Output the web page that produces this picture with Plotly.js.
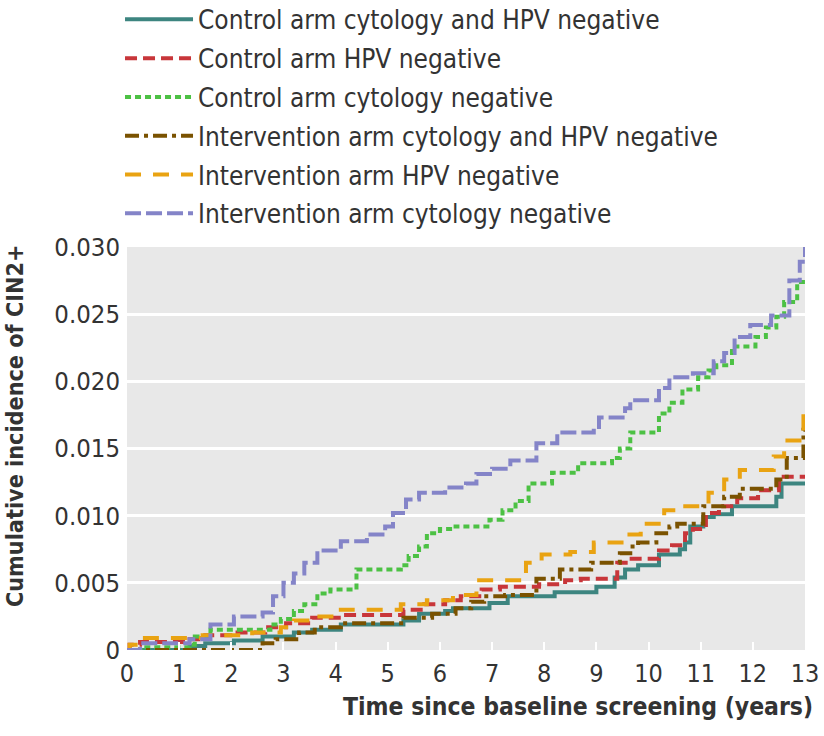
<!DOCTYPE html>
<html>
<head>
<meta charset="utf-8">
<script src="https://cdn.plot.ly/plotly-3.0.1.min.js"></script>
<style>html,body{margin:0;padding:0;background:#fff;}#chart{width:824px;height:736px;}</style>
</head>
<body>
<div id="chart"></div>
<script>
// Series names
const seriesNames = [
  "Control arm cytology and HPV negative",
  "Control arm HPV negative",
  "Control arm cytology negative",
  "Intervention arm cytology and HPV negative",
  "Intervention arm HPV negative",
  "Intervention arm cytology negative"
];

// Step change times (years) and cumulative incidence values
const ctlBothT = [0, 1.2, 1.5, 2.05, 2.6, 3.2, 3.55, 4.1, 5.3, 5.6, 6.1, 6.25, 6.95, 7.3, 8.2, 9.0, 9.35, 9.55, 9.8, 10.2, 10.6, 10.7, 10.8, 11.05, 11.25, 11.6, 12.45, 12.55, 13];
const ctlBothY = [0, 0.0003, 0.0005, 0.0007, 0.001, 0.0013, 0.0015, 0.0019, 0.0022, 0.0027, 0.0029, 0.0031, 0.0035, 0.004, 0.0043, 0.0047, 0.0054, 0.006, 0.0063, 0.0071, 0.0075, 0.008, 0.0092, 0.0099, 0.0101, 0.0107, 0.0114, 0.0124, 0.0124];

const ctlHpvT = [0, 0.05, 0.25, 1.2, 1.5, 2.05, 2.65, 3.05, 3.55, 4.1, 5.3, 5.7, 6.1, 6.4, 6.8, 7.15, 7.9, 8.4, 8.7, 9.4, 9.6, 10.2, 10.45, 10.7, 10.85, 11.1, 11.35, 11.7, 12.1, 12.5, 13];
const ctlHpvY = [0, 0.0004, 0.0006, 0.0008, 0.0011, 0.0013, 0.0017, 0.002, 0.0024, 0.0026, 0.003, 0.0034, 0.0037, 0.004, 0.0045, 0.0047, 0.0049, 0.0052, 0.0053, 0.0065, 0.0068, 0.0074, 0.0078, 0.0087, 0.009, 0.0102, 0.0107, 0.0113, 0.0119, 0.0129, 0.0129];

const ctlCytoT = [0, 0.3, 1.2, 1.3, 1.6, 2.75, 2.95, 3.2, 3.4, 3.65, 3.9, 4.4, 5.25, 5.4, 5.6, 5.75, 6.0, 6.3, 6.95, 7.2, 7.45, 7.7, 8.15, 8.65, 9.3, 9.45, 9.65, 10.2, 10.4, 10.65, 10.95, 11.15, 11.3, 11.6, 12.05, 12.25, 12.45, 12.6, 12.85, 13];
const ctlCytoY = [0, 0.0002, 0.0004, 0.001, 0.0015, 0.0019, 0.0023, 0.0029, 0.0034, 0.0042, 0.0045, 0.006, 0.0063, 0.007, 0.0077, 0.0087, 0.009, 0.0092, 0.0097, 0.0104, 0.0111, 0.0124, 0.0132, 0.0139, 0.0143, 0.015, 0.0162, 0.0176, 0.0184, 0.0194, 0.0203, 0.0208, 0.0212, 0.0226, 0.0233, 0.024, 0.0248, 0.0259, 0.0274, 0.0274];

const intBothT = [0, 2.6, 2.85, 3.3, 3.6, 4.1, 5.3, 5.85, 6.3, 6.6, 6.85, 7.25, 7.85, 8.3, 8.9, 9.45, 9.65, 9.8, 10.15, 10.4, 10.55, 11.05, 11.45, 11.75, 12.45, 12.65, 12.97, 13];
const intBothY = [0, 0.0005, 0.0008, 0.0013, 0.0017, 0.002, 0.0024, 0.0027, 0.0031, 0.0036, 0.004, 0.0041, 0.0053, 0.006, 0.0065, 0.0072, 0.0077, 0.008, 0.0087, 0.0092, 0.0094, 0.0107, 0.0114, 0.012, 0.0127, 0.0143, 0.0164, 0.0164];

const intHpvT = [0, 0.05, 0.3, 1.45, 2.4, 2.95, 3.2, 3.55, 4.1, 5.25, 5.75, 6.25, 6.7, 7.65, 7.95, 8.5, 8.95, 9.55, 9.85, 10.3, 10.65, 11.15, 11.45, 11.75, 12.4, 12.6, 12.97, 13];
const intHpvY = [0, 0.0004, 0.0009, 0.0011, 0.0013, 0.0017, 0.0022, 0.0025, 0.003, 0.0034, 0.0037, 0.0041, 0.0052, 0.0065, 0.0071, 0.0073, 0.008, 0.0086, 0.0094, 0.0104, 0.0107, 0.0117, 0.0127, 0.0134, 0.0144, 0.0156, 0.0174, 0.0174];

const intCytoT = [0, 0.25, 1.2, 1.6, 2.05, 2.6, 2.8, 3.0, 3.2, 3.4, 3.65, 4.1, 4.6, 4.95, 5.1, 5.35, 5.6, 6.1, 6.5, 6.7, 7.0, 7.35, 7.85, 8.25, 8.95, 9.05, 9.55, 9.65, 10.2, 10.4, 10.85, 11.25, 11.45, 11.65, 11.95, 12.35, 12.7, 12.9, 13];
const intCytoY = [0, 0.0005, 0.0008, 0.0019, 0.0025, 0.0028, 0.004, 0.005, 0.0057, 0.0065, 0.0074, 0.0081, 0.0086, 0.0092, 0.0102, 0.0112, 0.0117, 0.0121, 0.0124, 0.0131, 0.0135, 0.0141, 0.0154, 0.0162, 0.0166, 0.0173, 0.018, 0.0186, 0.0195, 0.0203, 0.0206, 0.0215, 0.0221, 0.0233, 0.0242, 0.0249, 0.0275, 0.0289, 0.030];

const xTicks = [0,1,2,3,4,5,6,7,8,9,10,11,12,13];
const yTicks = [0, 0.005, 0.010, 0.015, 0.020, 0.025, 0.030];
const yTickText = ["0", "0.005", "0.010", "0.015", "0.020", "0.025", "0.030"];

const FONT = '"DejaVu Sans Condensed", "Liberation Sans Narrow", "Open Sans", sans-serif';
const TXT = '#333333';

const styles = [
  {color: '#3d8580', dash: 'solid', width: 4},
  {color: '#c8363a', dash: '12px,6px', width: 4},
  {color: '#4cc144', dash: '6px,4px', width: 4},
  {color: '#7a5200', dash: '14px,5px,4px,5px', width: 4},
  {color: '#e9a312', dash: '16px,12px', width: 4},
  {color: '#8484c8', dash: '16px,5px', width: 4}
];
const xs = [ctlBothT, ctlHpvT, ctlCytoT, intBothT, intHpvT, intCytoT];
const ys = [ctlBothY, ctlHpvY, ctlCytoY, intBothY, intHpvY, intCytoY];

const traces = seriesNames.map((n, i) => ({
  type: 'scatter', mode: 'lines', name: n,
  x: xs[i], y: ys[i],
  legendgroup: 'g' + i,
  line: {shape: 'hv', color: styles[i].color, dash: styles[i].dash, width: styles[i].width}
}));

const layout = {
  width: 824, height: 736,
  margin: {l: 127, r: 19, t: 247, b: 86, autoexpand: false},
  paper_bgcolor: '#ffffff',
  plot_bgcolor: '#e8e8e8',
  font: {family: FONT, size: 26, color: TXT},
  showlegend: true,
  legend: {
    x: -0.0103, xanchor: 'left', y: 1.623, yanchor: 'top',
    font: {family: FONT, size: 26, color: TXT},
    itemwidth: 68, tracegroupgap: 2, bgcolor: 'rgba(0,0,0,0)'
  },
  xaxis: {
    range: [0, 13], tickvals: xTicks, ticktext: xTicks.map(String),
    showgrid: false, zeroline: false, showline: false,
    ticks: 'inside', ticklen: 8, tickwidth: 2, tickcolor: '#ffffff',
    ticklabelstandoff: 6,
    tickfont: {family: FONT, size: 25, color: TXT}
  },
  yaxis: {
    range: [0, 0.030], tickvals: yTicks, ticktext: yTickText,
    showgrid: true, gridcolor: '#ffffff', gridwidth: 3,
    zeroline: false, showline: false, ticks: '', ticklabelstandoff: 6,
    tickfont: {family: FONT, size: 25.5, color: TXT}
  },
  annotations: [
    {
      xref: 'paper', yref: 'paper', x: 1.015, y: -0.099, xanchor: 'right', yanchor: 'top',
      text: '<b>Time since baseline screening (years)</b>', showarrow: false,
      font: {family: FONT, size: 24.5, color: TXT}
    },
    {
      xref: 'paper', yref: 'paper', x: -0.165, y: 0.556, xanchor: 'center', yanchor: 'middle',
      textangle: -90,
      text: '<b>Cumulative incidence of CIN2+</b>', showarrow: false,
      font: {family: FONT, size: 23.2, color: TXT}
    }
  ]
};

Plotly.newPlot('chart', traces, layout, {displayModeBar: false, staticPlot: true});
</script>
</body>
</html>
